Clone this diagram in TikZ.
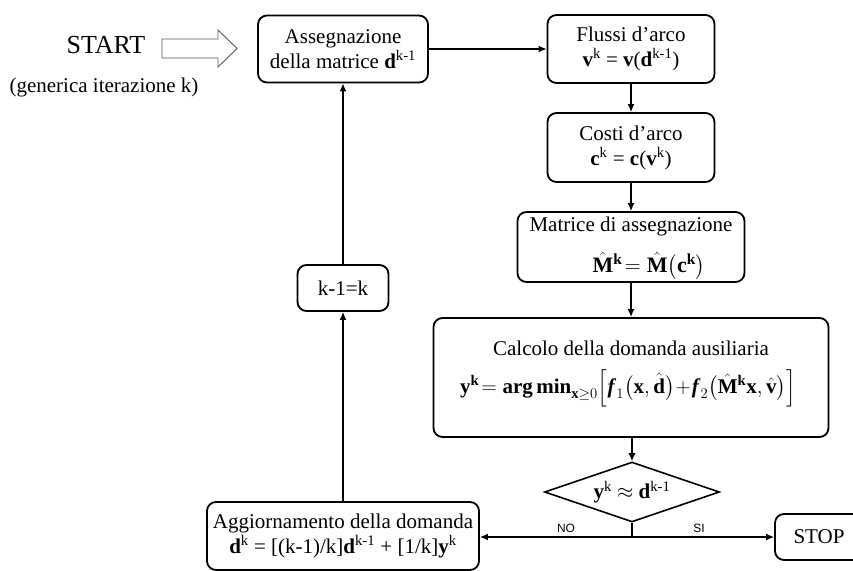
\documentclass[tikz,border=0pt]{standalone}
\usepackage{fix-cm}
\usepackage{amsmath}
\usepackage{fontspec}
\setmainfont{Liberation Serif}
\newfontfamily\labelfont{Liberation Sans}
\usetikzlibrary{arrows.meta,shapes.geometric}

\begin{document}
\begin{tikzpicture}[x=1pt,y=-1pt,
  blk/.style={draw, line width=1.8pt, rounded corners=9pt, inner sep=0pt,
              align=center, font=\fontsize{21}{25}\selectfont},
  txt/.style={inner sep=0pt, align=center, font=\fontsize{21}{25}\selectfont},
  frm/.style={inner sep=0pt, font=\fontsize{21}{25}\selectfont},
  conn/.style={line width=1.4pt, -{Latex[length=8pt,width=7pt]}},
  tag/.style={inner sep=0pt, font=\labelfont\fontsize{12}{14}\selectfont}]
\clip (0,0) rectangle (853,570);

% start marker
\node[inner sep=0pt, font=\fontsize{26}{30}\selectfont] (start) at (106,45) {START};
\node[txt] (iter) at (104,87) {(generica iterazione k)};
\draw[line width=0.9pt, draw=black!65] (162,39) -- (218,39) -- (218,30) -- (237,48.5)
  -- (218,67) -- (218,58) -- (162,58) -- cycle;

% main loop blocks
\node[blk, minimum width=170pt, minimum height=67pt] (assign) at (343,49)
  {Assegnazione\\della matrice \textbf{d}\textsuperscript{k-1}};
\node[blk, minimum width=167pt, minimum height=68pt] (flow) at (631,49)
  {Flussi d'arco\\\textbf{v}\textsuperscript{k} = \textbf{v}(\textbf{d}\textsuperscript{k-1})};
\node[blk, minimum width=167pt, minimum height=69pt] (cost) at (631,147.5)
  {Costi d'arco\\\textbf{c}\textsuperscript{k} = \textbf{c}(\textbf{v}\textsuperscript{k})};

\node[blk, minimum width=227pt, minimum height=70pt] (matrix) at (631,247) {};
\node[txt] (mtitle) at (631,226) {Matrice di assegnazione};
\node[frm, font=\fontsize{22}{26}\selectfont] (mform) at (649,266)
  {$\hat{\mathbf{M}}^{\mathbf{k}}\! = \hat{\mathbf{M}}\bigl(\mathbf{c}^{\mathbf{k}}\bigr)$};

\node[blk, minimum width=395pt, minimum height=119pt] (aux) at (631,377.5) {};
\node[txt] (atitle) at (631,348) {Calcolo della domanda ausiliaria};
\node[frm] (aform) at (628,388)
  {$\mathbf{y}^{\mathbf{k}}\! = \mathbf{arg\,min}_{\mathbf{x}\geq 0}\Bigl[\textbf{\textit{f}}_1\bigl(\mathbf{x},\hat{\mathbf{d}}\bigr)\!+\! \textbf{\textit{f}}_2\bigl(\hat{\mathbf{M}}^{\mathbf{k}}\mathbf{x},\hat{\mathbf{v}}\bigr)\Bigr]$};

\node[draw, diamond, aspect=2.92, minimum width=175pt, minimum height=60pt,
      inner sep=0pt, line width=1.6pt, font=\fontsize{21}{25}\selectfont] (test) at (632,492)
  {\textbf{y}\textsuperscript{k} $\approx$ \textbf{d}\textsuperscript{k-1}};

\node[blk, minimum width=272pt, minimum height=68pt] (update) at (343,536)
  {Aggiornamento della domanda\\\textbf{d}\textsuperscript{k} = [(k-1)/k]\textbf{d}\textsuperscript{k-1} + [1/k]\textbf{y}\textsuperscript{k}};
\node[blk, minimum width=91pt, minimum height=46pt] (kstep) at (343,288) {k-1=k};
\node[blk, minimum width=88pt, minimum height=46pt] (stop) at (819,537) {STOP};

% connectors
\draw[conn] (assign.east) -- (flow.west);
\draw[conn] (flow.south) -- (cost.north);
\draw[conn] (cost.south) -- (matrix.north);
\draw[conn] (matrix.south) -- (aux.north);
\draw[conn] (aux.south -| test.north) -- (test.north);
\coordinate (split) at (632,537);
\draw[line width=1.4pt] (test.south) -- (split);
\draw[conn] (split) -- (split -| update.east);
\draw[conn] (split) -- (stop.west);
\draw[conn] (update.north) -- (kstep.south);
\draw[conn] (kstep.north) -- (assign.south);

\node[tag] (no) at (566,528) {NO};
\node[tag] (si) at (699,528) {SI};
\end{tikzpicture}
\end{document}
